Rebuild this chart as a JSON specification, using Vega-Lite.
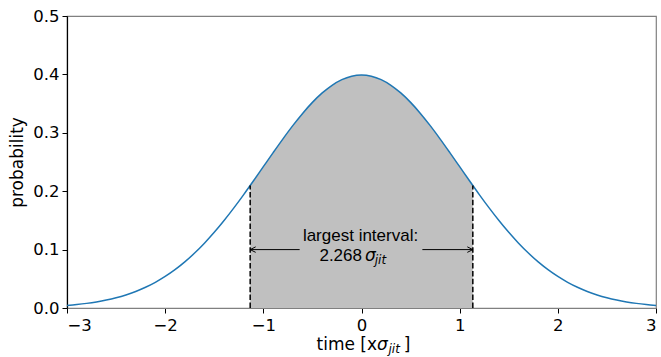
{
  "$schema": "https://vega.github.io/schema/vega-lite/v6.json",
  "width": 589,
  "height": 292,
  "autosize": "none",
  "padding": {"left": 67, "top": 16, "right": 5, "bottom": 49},
  "config": {
    "view": {"stroke": "#808080", "strokeWidth": 1.2},
    "axis": {"grid": false, "labelFont": "DejaVu Sans", "labelFontSize": 16.5, "labelColor": "#000", "tickColor": "#000", "tickSize": 5, "tickWidth": 1, "titleFont": "DejaVu Sans", "titleFontSize": 17, "titleFontWeight": "normal", "titleColor": "#000"}
  },
  "datasets": {
    "curve": [
      {"t": -3.0, "p": 0.004432}, {"t": -2.9, "p": 0.005953}, {"t": -2.8, "p": 0.007915}, {"t": -2.7, "p": 0.010421},
      {"t": -2.6, "p": 0.013583}, {"t": -2.5, "p": 0.017528}, {"t": -2.4, "p": 0.022395}, {"t": -2.3, "p": 0.028327},
      {"t": -2.2, "p": 0.035475}, {"t": -2.1, "p": 0.043984}, {"t": -2.0, "p": 0.053991}, {"t": -1.9, "p": 0.065616},
      {"t": -1.8, "p": 0.07895}, {"t": -1.7, "p": 0.094049}, {"t": -1.6, "p": 0.110921}, {"t": -1.5, "p": 0.129518},
      {"t": -1.4, "p": 0.149727}, {"t": -1.3, "p": 0.171369}, {"t": -1.2, "p": 0.194186}, {"t": -1.1, "p": 0.217852},
      {"t": -1.0, "p": 0.241971}, {"t": -0.9, "p": 0.266085}, {"t": -0.8, "p": 0.289692}, {"t": -0.7, "p": 0.312254},
      {"t": -0.6, "p": 0.333225}, {"t": -0.5, "p": 0.352065}, {"t": -0.4, "p": 0.36827}, {"t": -0.3, "p": 0.381388},
      {"t": -0.2, "p": 0.391043}, {"t": -0.1, "p": 0.396953}, {"t": 0.0, "p": 0.398942}, {"t": 0.1, "p": 0.396953},
      {"t": 0.2, "p": 0.391043}, {"t": 0.3, "p": 0.381388}, {"t": 0.4, "p": 0.36827}, {"t": 0.5, "p": 0.352065},
      {"t": 0.6, "p": 0.333225}, {"t": 0.7, "p": 0.312254}, {"t": 0.8, "p": 0.289692}, {"t": 0.9, "p": 0.266085},
      {"t": 1.0, "p": 0.241971}, {"t": 1.1, "p": 0.217852}, {"t": 1.2, "p": 0.194186}, {"t": 1.3, "p": 0.171369},
      {"t": 1.4, "p": 0.149727}, {"t": 1.5, "p": 0.129518}, {"t": 1.6, "p": 0.110921}, {"t": 1.7, "p": 0.094049},
      {"t": 1.8, "p": 0.07895}, {"t": 1.9, "p": 0.065616}, {"t": 2.0, "p": 0.053991}, {"t": 2.1, "p": 0.043984},
      {"t": 2.2, "p": 0.035475}, {"t": 2.3, "p": 0.028327}, {"t": 2.4, "p": 0.022395}, {"t": 2.5, "p": 0.017528},
      {"t": 2.6, "p": 0.013583}, {"t": 2.7, "p": 0.010421}, {"t": 2.8, "p": 0.007915}, {"t": 2.9, "p": 0.005953},
      {"t": 3.0, "p": 0.004432}
    ],
    "band": [
      {"t": -1.134, "p": 0.20973}, {"t": -1.1, "p": 0.217852},
      {"t": -1.0, "p": 0.241971}, {"t": -0.9, "p": 0.266085}, {"t": -0.8, "p": 0.289692}, {"t": -0.7, "p": 0.312254},
      {"t": -0.6, "p": 0.333225}, {"t": -0.5, "p": 0.352065}, {"t": -0.4, "p": 0.36827}, {"t": -0.3, "p": 0.381388},
      {"t": -0.2, "p": 0.391043}, {"t": -0.1, "p": 0.396953}, {"t": 0.0, "p": 0.398942}, {"t": 0.1, "p": 0.396953},
      {"t": 0.2, "p": 0.391043}, {"t": 0.3, "p": 0.381388}, {"t": 0.4, "p": 0.36827}, {"t": 0.5, "p": 0.352065},
      {"t": 0.6, "p": 0.333225}, {"t": 0.7, "p": 0.312254}, {"t": 0.8, "p": 0.289692}, {"t": 0.9, "p": 0.266085},
      {"t": 1.0, "p": 0.241971}, {"t": 1.1, "p": 0.217852}, {"t": 1.134, "p": 0.20973}
    ],
    "bounds": [{"t": -1.134, "p0": 0, "p1": 0.20973}, {"t": 1.134, "p0": 0, "p1": 0.20973}],
    "arrows": [{"t0": -0.63, "t1": -1.134, "p": 0.1}, {"t0": 0.62, "t1": 1.134, "p": 0.1}],
    "headL": [{"t": -1.134, "p": 0.1}],
    "headR": [{"t": 1.134, "p": 0.1}]
  },
  "encoding": {
    "x": {"type": "quantitative", "scale": {"domain": [-3, 3], "nice": false, "zero": false}},
    "y": {"type": "quantitative", "scale": {"domain": [0, 0.5], "nice": false}}
  },
  "layer": [
    {
      "data": {"name": "band"},
      "mark": {"type": "area", "color": "#c0c0c0", "opacity": 1, "interpolate": "monotone"},
      "encoding": {
        "x": {"field": "t", "type": "quantitative", "axis": {"values": [-3, -2, -1, 0, 1, 2, 3], "format": "d", "title": null, "domainColor": "#808080", "domainWidth": 1.2, "labelPadding": 4}},
        "y": {"field": "p", "type": "quantitative", "axis": {"values": [0, 0.1, 0.2, 0.3, 0.4, 0.5], "format": ".1f", "title": "probability", "titlePadding": 6, "domainColor": "#000", "domainWidth": 1.2, "labelPadding": 3}}
      }
    },
    {
      "data": {"name": "curve"},
      "mark": {"type": "line", "color": "#1f77b4", "strokeWidth": 1.5, "interpolate": "monotone"},
      "encoding": {
        "x": {"field": "t", "type": "quantitative"},
        "y": {"field": "p", "type": "quantitative"}
      }
    },
    {
      "data": {"name": "bounds"},
      "mark": {"type": "rule", "color": "#000", "strokeWidth": 1.5, "strokeDash": [5.5, 2.4]},
      "encoding": {
        "x": {"field": "t", "type": "quantitative"},
        "y": {"field": "p0", "type": "quantitative"},
        "y2": {"field": "p1"}
      }
    },
    {
      "data": {"name": "arrows"},
      "mark": {"type": "rule", "color": "#000", "strokeWidth": 1},
      "encoding": {
        "x": {"field": "t0", "type": "quantitative"},
        "x2": {"field": "t1"},
        "y": {"field": "p", "type": "quantitative"}
      }
    },
    {
      "data": {"name": "headL"},
      "mark": {"type": "point", "shape": "M1.1,-0.55L0,0L1.1,0.55", "filled": false, "stroke": "#000", "strokeWidth": 1, "size": 100, "opacity": 1},
      "encoding": {
        "x": {"field": "t", "type": "quantitative"},
        "y": {"field": "p", "type": "quantitative"}
      }
    },
    {
      "data": {"name": "headR"},
      "mark": {"type": "point", "shape": "M-1.1,-0.55L0,0L-1.1,0.55", "filled": false, "stroke": "#000", "strokeWidth": 1, "size": 100, "opacity": 1},
      "encoding": {
        "x": {"field": "t", "type": "quantitative"},
        "y": {"field": "p", "type": "quantitative"}
      }
    },
    {
      "data": {"values": [{"t": -0.01, "p": 0.1225, "label": "largest interval:"}]},
      "mark": {"type": "text", "font": "Liberation Sans", "fontSize": 17, "color": "#000", "align": "center", "baseline": "middle"},
      "encoding": {
        "x": {"field": "t", "type": "quantitative"},
        "y": {"field": "p", "type": "quantitative"},
        "text": {"field": "label"}
      }
    },
    {
      "data": {"values": [{"t": 0.005, "p": 0.0895, "label": "2.268"}]},
      "mark": {"type": "text", "font": "Liberation Sans", "fontSize": 17, "color": "#000", "align": "right", "baseline": "middle"},
      "encoding": {
        "x": {"field": "t", "type": "quantitative"},
        "y": {"field": "p", "type": "quantitative"},
        "text": {"field": "label"}
      }
    },
    {
      "data": {"values": [{"t": 0.035, "p": 0.0895, "label": "σ"}]},
      "mark": {"type": "text", "font": "DejaVu Sans", "fontStyle": "italic", "fontSize": 17, "color": "#000", "align": "left", "baseline": "middle"},
      "encoding": {
        "x": {"field": "t", "type": "quantitative"},
        "y": {"field": "p", "type": "quantitative"},
        "text": {"field": "label"}
      }
    },
    {
      "data": {"values": [{"t": 0.135, "p": 0.0895, "label": "jit"}]},
      "mark": {"type": "text", "font": "DejaVu Sans", "fontStyle": "italic", "fontSize": 12, "color": "#000", "align": "left", "baseline": "middle", "dy": 4},
      "encoding": {
        "x": {"field": "t", "type": "quantitative"},
        "y": {"field": "p", "type": "quantitative"},
        "text": {"field": "label"}
      }
    },
    {
      "data": {"values": [{"t": 0.158, "p": -0.0715, "label": "time [x"}]},
      "mark": {"type": "text", "font": "DejaVu Sans", "fontSize": 17, "color": "#000", "align": "right", "baseline": "alphabetic", "clip": false},
      "encoding": {
        "x": {"field": "t", "type": "quantitative"},
        "y": {"field": "p", "type": "quantitative"},
        "text": {"field": "label"}
      }
    },
    {
      "data": {"values": [{"t": 0.158, "p": -0.0715, "label": "σ"}]},
      "mark": {"type": "text", "font": "DejaVu Sans", "fontStyle": "italic", "fontSize": 17, "color": "#000", "align": "left", "baseline": "alphabetic", "clip": false},
      "encoding": {
        "x": {"field": "t", "type": "quantitative"},
        "y": {"field": "p", "type": "quantitative"},
        "text": {"field": "label"}
      }
    },
    {
      "data": {"values": [{"t": 0.275, "p": -0.0715, "label": "jit"}]},
      "mark": {"type": "text", "font": "DejaVu Sans", "fontStyle": "italic", "fontSize": 12, "color": "#000", "align": "left", "baseline": "alphabetic", "dy": 3, "clip": false},
      "encoding": {
        "x": {"field": "t", "type": "quantitative"},
        "y": {"field": "p", "type": "quantitative"},
        "text": {"field": "label"}
      }
    },
    {
      "data": {"values": [{"t": 0.43, "p": -0.0715, "label": "]"}]},
      "mark": {"type": "text", "font": "DejaVu Sans", "fontSize": 17, "color": "#000", "align": "left", "baseline": "alphabetic", "clip": false},
      "encoding": {
        "x": {"field": "t", "type": "quantitative"},
        "y": {"field": "p", "type": "quantitative"},
        "text": {"field": "label"}
      }
    }
  ]
}
